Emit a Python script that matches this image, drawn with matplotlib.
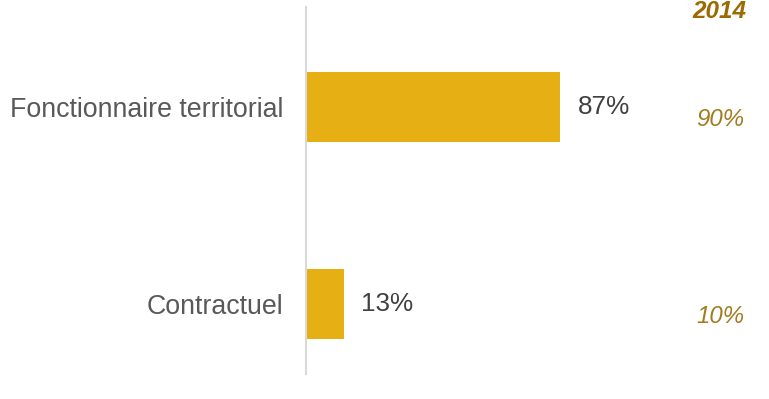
import matplotlib.pyplot as plt

plt.rcParams['font.family'] = ['Liberation Sans', 'DejaVu Sans']

# données
categories = ['Fonctionnaire territorial', 'Contractuel']
valeurs = [87, 13]
annee_ref = '2014'
valeurs_ref = ['90%', '10%']

fig = plt.figure(figsize=(7.69, 3.99), dpi=100)
W, H = 769, 399
ax = fig.add_axes([306 / W, 25 / H, 292 / W, 367 / H])

y = list(range(len(categories)))
bars = ax.barh(y, valeurs, height=0.355, color='#E6AF14')
ax.set_xlim(0, 100)
ax.set_ylim(1.355, -0.51)

for s in ['top', 'right', 'bottom']:
    ax.spines[s].set_visible(False)
ax.spines['left'].set_color('#D9D9D9')
ax.spines['left'].set_linewidth(1.5)
ax.set_xticks([])
ax.set_yticks(y)
ax.set_yticklabels(categories, fontsize=19.3, color='#595959')
ax.tick_params(axis='y', length=0, pad=16.5)

# étiquettes de valeur
for rect, v in zip(bars, valeurs):
    ax.text(rect.get_width() + 6, rect.get_y() + rect.get_height() / 2, '%d%%' % v,
            ha='left', va='center', fontsize=18.8, color='#404040')

# colonne de référence
fig.text(719 / W, 1 - 12 / H, annee_ref, ha='center', va='center', fontsize=17.5,
         fontweight='bold', fontstyle='italic', color='#9C6A00')
for i, t in enumerate(valeurs_ref):
    yy = ax.transData.transform((0, i))[1] / fig.dpi / 3.99
    fig.text(720 / W, yy - 12 / H, t, ha='center', va='center', fontsize=17.3,
             fontstyle='italic', color='#A07C1E')

plt.savefig('out.png', dpi=100)
